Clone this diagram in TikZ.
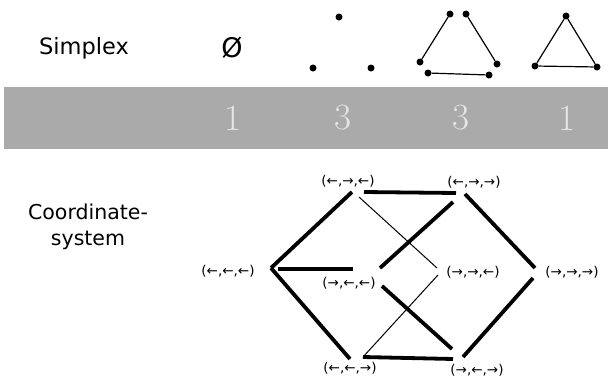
\documentclass[tikz,border=0pt]{standalone}
\usepackage{fontspec}
\newfontfamily\dv{DejaVu Sans}
\begin{document}
\begin{tikzpicture}[x=1pt,y=-1pt,
  heading/.style={font=\dv\fontsize{22.5}{27}\selectfont, align=center, inner sep=0pt},
  count/.style={font=\fontsize{37}{37}\selectfont, text=countgray, inner sep=0pt},
  vlabel/.style={font=\dv\fontsize{13.5}{14}\selectfont, inner sep=0pt},
  dot/.style={circle, fill=black, inner sep=0pt, minimum size=7pt},
  thickedge/.style={line width=3.8pt},
  thinedge/.style={line width=1pt},
  simpedge/.style={line width=1.2pt}]
\definecolor{bandgray}{HTML}{AAAAAA}
\definecolor{countgray}{HTML}{E6E6E6}
\useasboundingbox (0,0) rectangle (608,378);
\fill[white] (0,0) rectangle (608,378);
% band
\fill[bandgray] (4,87) rectangle (608,149);
\node[count] (c0) at (233,118) {1};
\node[count] (c1) at (343,118) {3};
\node[count] (c2) at (461,118) {3};
\node[count] (c3) at (567,118) {1};
% headings
\node[heading] (simplex) at (84,48) {Simplex};
\node[heading, font=\dv\fontsize{20.5}{26}\selectfont] (coord) at (88,227) {Coordinate-\\system};
\node[heading, font=\dv\fontsize{27}{27}\selectfont] (empty) at (232,48) {Ø};
% three points
\node[dot] (p1) at (339,17) {};
\node[dot] (p2) at (313,68) {};
\node[dot] (p3) at (371,68) {};
% edges only
\node[dot] (a1) at (450,14) {};
\node[dot] (a2) at (466,14) {};
\node[dot] (a3) at (420,62) {};
\node[dot] (a4) at (497,64) {};
\node[dot] (a5) at (428,73) {};
\node[dot] (a6) at (489,75) {};
\draw[simpedge] (a1) -- (a3);
\draw[simpedge] (a2) -- (a4);
\draw[simpedge] (a5) -- (a6);
% full triangle
\node[dot] (t1) at (566,16) {};
\node[dot] (t2) at (535,66) {};
\node[dot] (t3) at (597,67) {};
\draw[simpedge] (t1) -- (t2) -- (t3) -- (t1);
% coordinate-system labels
\node[vlabel] (lll) at (228,271) {(←,←,←)};
\node[vlabel] (lrl) at (348,181) {(←,→,←)};
\node[vlabel] (lrr) at (474,182) {(←,→,→)};
\node[vlabel] (rll) at (349,283) {(→,←,←)};
\node[vlabel] (rrl) at (473,272) {(→,→,←)};
\node[vlabel] (rrr) at (572,272) {(→,→,→)};
\node[vlabel] (llr) at (350,368) {(←,←,→)};
\node[vlabel] (rlr) at (477,370) {(→,←,→)};
% edge end points
\coordinate (lllA) at (271,268);
\coordinate (lllB) at (278,269);
\coordinate (lrlA) at (352,192);
\coordinate (lrlB) at (364,192);
\coordinate (lrlC) at (359,197);
\coordinate (lrrA) at (456,193);
\coordinate (lrrB) at (453,202);
\coordinate (lrrC) at (465,194);
\coordinate (rllA) at (353,269);
\coordinate (rllB) at (380,268);
\coordinate (rllC) at (382,286);
\coordinate (rrlA) at (437,268);
\coordinate (rrlB) at (438,275);
\coordinate (rrrA) at (535,268);
\coordinate (rrrB) at (533,278);
\coordinate (llrA) at (350,359);
\coordinate (llrB) at (363,357);
\coordinate (rlrA) at (453,359);
\coordinate (rlrB) at (452,349);
\coordinate (rlrC) at (463,357);
\draw[thickedge] (lllA) -- (lrlA);
\draw[thickedge] (lllA) -- (llrA);
\draw[thickedge] (lllB) -- (rllA);
\draw[thickedge] (lrlB) -- (lrrA);
\draw[thinedge] (lrlC) -- (rrlA);
\draw[thickedge] (lrrB) -- (rllB);
\draw[thickedge] (lrrC) -- (rrrA);
\draw[thickedge] (rrrB) -- (rlrC);
\draw[thickedge] (rllC) -- (rlrB);
\draw[thinedge] (rrlB) -- (llrB);
\draw[thickedge] (llrB) -- (rlrA);
\end{tikzpicture}
\end{document}
